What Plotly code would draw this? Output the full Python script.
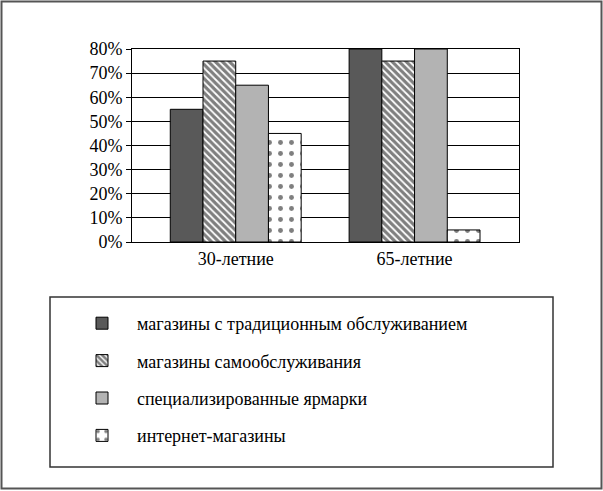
import plotly.graph_objects as go

W, H = 603, 491
categories = ["30-летние", "65-летние"]
series_names = [
    "магазины с традиционным обслуживанием",
    "магазины самообслуживания",
    "специализированные ярмарки",
    "интернет-магазины",
]
values = [
    [55, 80],
    [75, 75],
    [65, 80],
    [45, 5],
]
y_ticks = [0, 10, 20, 30, 40, 50, 60, 70, 80]
y_ticklabels = [f"{v}%" for v in y_ticks]

FONT = "Liberation Serif"
styles = [
    dict(color="#595959"),
    dict(color="white", pattern=dict(shape="\\", fgcolor="black", bgcolor="white", size=5, solidity=0.65)),
    dict(color="#b3b3b3"),
    dict(color="white", pattern=dict(shape=".", fgcolor="black", bgcolor="white", size=11, solidity=0.16)),
]

ML, MR, MT, MB = 132, 84, 49, 249
pw, ph = W - ML - MR, H - MT - MB

def px_x(p):
    return (p - ML) / pw

def px_y(p):
    return (H - MB - p) / ph

fig = go.Figure()
for i, name in enumerate(series_names):
    fig.add_trace(go.Bar(
        x=categories, y=values[i], name=name,
        marker=dict(line=dict(color="black", width=1), **styles[i]),
        legendgroup=f"g{i}",
    ))

fig.update_layout(
    width=W, height=H,
    margin=dict(l=ML, r=MR, t=MT, b=MB),
    paper_bgcolor="white", plot_bgcolor="white",
    font=dict(family=FONT, size=18, color="black"),
    barmode="group", bargap=0.268, bargroupgap=0,
    showlegend=True,
    legend=dict(
        x=px_x(67), y=px_y(305), xanchor="left", yanchor="top",
        bgcolor="rgba(0,0,0,0)", borderwidth=0,
        font=dict(family=FONT, size=18, color="black"),
        tracegroupgap=11, itemwidth=60,
        traceorder="grouped",
    ),
    xaxis=dict(
        type="category", range=[-0.58, 1.584],
        showline=True, linecolor="black", linewidth=1, mirror=True,
        ticks="", showgrid=False,
        tickfont=dict(family=FONT, size=18, color="black"),
    ),
    yaxis=dict(
        range=[0, 80], tickvals=y_ticks, ticktext=y_ticklabels,
        showline=True, linecolor="black", linewidth=1, mirror=True,
        ticks="outside", ticklen=5, tickcolor="black",
        showgrid=True, gridcolor="black", gridwidth=1,
        zeroline=False,
        tickfont=dict(family=FONT, size=18, color="black"),
    ),
    shapes=[
        dict(type="rect", xref="paper", yref="paper",
             x0=px_x(1.5), x1=px_x(601.5), y0=px_y(488.5), y1=px_y(1.5),
             line=dict(color="#555555", width=2)),
        dict(type="rect", xref="paper", yref="paper",
             x0=px_x(50), x1=px_x(553), y0=px_y(467), y1=px_y(297),
             line=dict(color="#333333", width=1.5)),
    ],
)

fig.write_html("out.html")
